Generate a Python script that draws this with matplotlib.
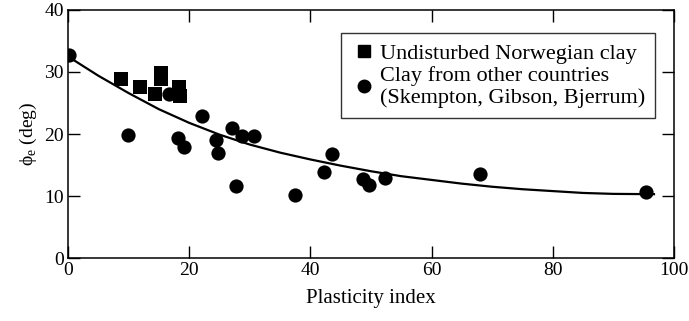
import matplotlib
matplotlib.use("Agg")
import matplotlib.pyplot as plt
from matplotlib.lines import Line2D

plt.rcParams["font.family"] = ["Liberation Serif", "DejaVu Serif"]
plt.rcParams["mathtext.fontset"] = "custom"
plt.rcParams["mathtext.rm"] = "Liberation Serif"

# ---- data ----
norway_pi = [8.7, 11.9, 14.3, 15.3, 15.3, 18.3, 18.4]
norway_phi = [28.9, 27.6, 26.4, 29.8, 28.8, 27.6, 26.1]

other_pi = [0.2, 9.9, 16.6, 18.2, 19.2, 22.1, 24.4, 24.7, 27.1, 27.8, 28.7,
            30.7, 37.5, 42.3, 43.6, 48.7, 49.7, 52.3, 68.0, 95.4]
other_phi = [32.8, 19.9, 26.4, 19.3, 17.9, 22.9, 19.0, 17.0, 21.0, 11.6, 19.7,
             19.7, 10.2, 13.9, 16.8, 12.8, 11.8, 12.9, 13.6, 10.6]

trend_pi = [0, 5, 10, 15, 20, 25, 30, 35, 40, 45, 50, 55, 60, 65, 70, 75, 80,
            85, 90, 96.7]
trend_phi = [32.5, 29.4, 26.6, 24.0, 21.8, 19.9, 18.3, 17.0, 15.9, 14.9, 14.0,
             13.2, 12.6, 12.0, 11.5, 11.1, 10.8, 10.5, 10.35, 10.3]

fig = plt.figure(figsize=(6.89, 3.21), dpi=100)
ax = fig.add_axes([0.0987, 0.196, 0.8795, 0.773])

ax.plot(trend_pi, trend_phi, color="black", lw=1.6, zorder=2)
ax.scatter(norway_pi, norway_phi, marker="s", s=90, color="black",
           linewidths=0, zorder=3)
ax.scatter(other_pi, other_phi, marker="o", s=105, color="black",
           linewidths=0, zorder=3)

ax.set_xlim(0, 100)
ax.set_ylim(0, 40)
ax.set_xticks([0, 20, 40, 60, 80, 100])
ax.set_yticks([0, 10, 20, 30, 40])
ax.tick_params(direction="in", length=8.5, width=1, labelsize=14,
               top=True, right=True, pad=3)
for s in ax.spines.values():
    s.set_linewidth(1.1)

ax.set_xlabel("Plasticity index", fontsize=15, labelpad=7)
ax.set_ylabel(r"ϕ$_\mathrm{e}$ (deg)", fontsize=14, labelpad=4)

handles = [
    Line2D([], [], marker="s", ls="none", color="black", markersize=8),
    Line2D([], [], marker="o", ls="none", color="black", markersize=9),
]
labels = ["Undisturbed Norwegian clay",
          "Clay from other countries\n(Skempton, Gibson, Bjerrum)"]
leg = ax.legend(handles, labels, loc="upper right", fontsize=16,
                bbox_to_anchor=(0.969, 0.907), frameon=True, fancybox=False,
                edgecolor="black", handletextpad=0.1, handlelength=1.2,
                labelspacing=0.1, borderpad=0.45, borderaxespad=0)
leg.get_frame().set_linewidth(1.0)

fig.savefig("out.png", dpi=100)
